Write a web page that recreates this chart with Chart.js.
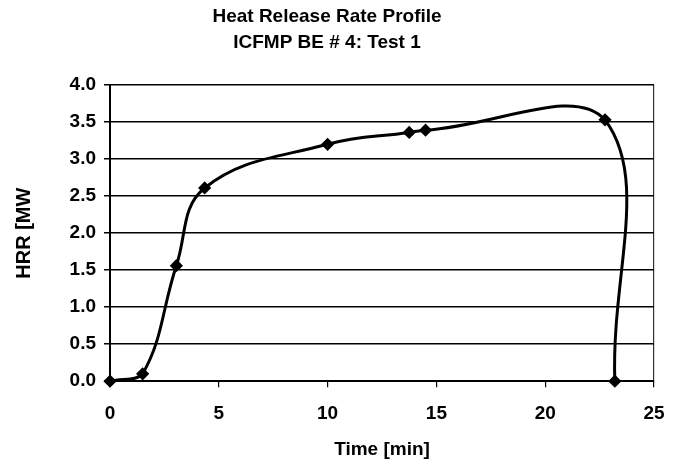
<!DOCTYPE html>
<html>
<head>
<meta charset="utf-8">
<script src="https://cdn.jsdelivr.net/npm/chart.js@4"></script>
<style>
  html, body { margin: 0; padding: 0; background: #fff; }
  #wrap { width: 675px; height: 465px; }
</style>
</head>
<body>
<div id="wrap"><canvas id="hrr-chart"></canvas></div>
<script>
// values
const timeMin = [0, 1.5, 3.05, 4.35, 10.0, 13.75, 14.5, 22.75, 23.2];
const hrrMW = [0, 0.1, 1.56, 2.61, 3.2, 3.36, 3.39, 3.53, 0];
const xTicks = [0, 5, 10, 15, 20, 25];
const yTicks = [0, 0.5, 1.0, 1.5, 2.0, 2.5, 3.0, 3.5, 4.0];

const font = "'Liberation Sans', Arial, sans-serif";

const points = timeMin.map((t, i) => ({ x: t, y: hrrMW[i] }));

new Chart(document.getElementById("hrr-chart"), {
  type: "scatter",
  data: {
    datasets: [
      {
        data: points,
        showLine: true,
        clip: 8,
        borderColor: "#000",
        borderWidth: 3,
        backgroundColor: "#000",
        pointStyle: "rectRot",
        pointRadius: 4.5,
        pointHoverRadius: 4.5,
        tension: 0.4,
      },
    ],
  },
  options: {
    responsive: true,
    maintainAspectRatio: false,
    animation: false,
    layout: { padding: { left: 0, right: 21, top: 0, bottom: 6 } },
    plugins: {
      legend: { display: false },
      tooltip: { enabled: false },
      title: {
        display: true,
        text: ["Heat Release Rate Profile", "ICFMP BE # 4: Test 1"],
        color: "#000",
        font: { family: font, size: 19, weight: "bold", lineHeight: 1.37 },
        padding: { top: 4, bottom: 29 },
      },
    },
    scales: {
      x: {
        type: "linear",
        min: 0,
        max: 25,
        afterBuildTicks: (s) => {
          s.ticks = xTicks.map((v) => ({ value: v }));
        },
        afterFit: (s) => {
          s.paddingRight = 12;
        },
        grid: {
          drawOnChartArea: true,
          drawTicks: true,
          tickLength: 6,
          // only the right edge of the plot area gets a line
          color: (ctx) =>
            ctx.tick && ctx.tick.value === xTicks[xTicks.length - 1]
              ? "#333"
              : "rgba(0,0,0,0)",
          tickColor: "#000",
          lineWidth: 1.2,
        },
        border: { display: true, color: "#000", width: 2 },
        ticks: {
          color: "#000",
          font: { family: font, size: 19, weight: "bold" },
          padding: 15,
          maxRotation: 0,
        },
        title: {
          display: true,
          text: "Time [min]",
          color: "#000",
          font: { family: font, size: 19, weight: "bold", lineHeight: 1.0 },
          padding: { top: 0, bottom: 0 },
        },
      },
      y: {
        type: "linear",
        min: 0,
        max: 4,
        afterBuildTicks: (s) => {
          s.ticks = yTicks.map((v) => ({ value: v }));
        },
        afterFit: (s) => {
          s.width = 110;
        },
        grid: {
          drawOnChartArea: true,
          drawTicks: true,
          tickLength: 6,
          color: "#000",
          lineWidth: 1.5,
        },
        border: { display: true, color: "#000", width: 2 },
        ticks: {
          color: "#000",
          font: { family: font, size: 19, weight: "bold" },
          padding: 8,
          callback: (v) => Number(v).toFixed(1),
        },
        title: {
          display: true,
          text: "HRR [MW",
          color: "#000",
          font: { family: font, size: 20, weight: "bold" },
          padding: { top: 12, bottom: 0 },
        },
      },
    },
  },
});
</script>
</body>
</html>
